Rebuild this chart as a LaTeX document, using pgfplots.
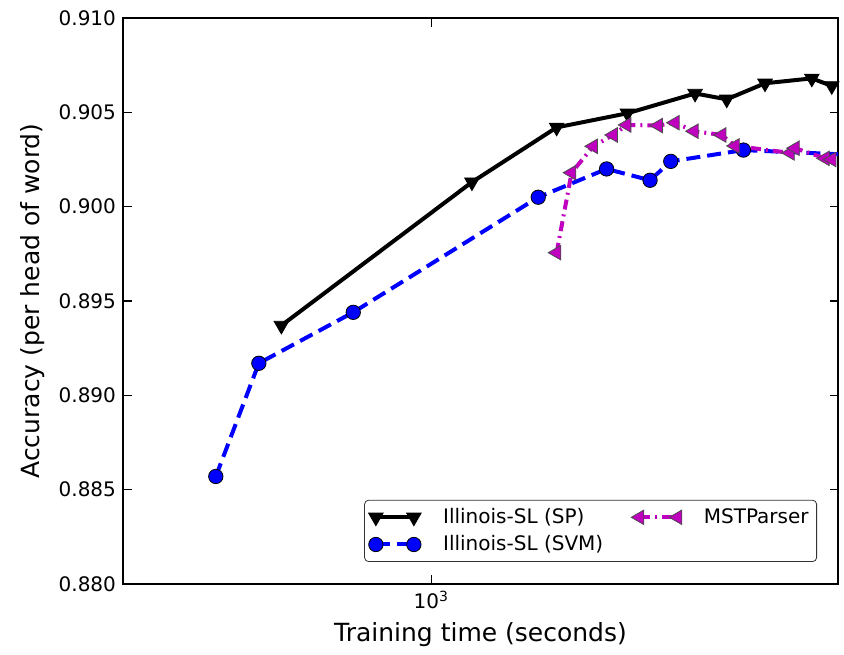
\documentclass[border=0pt]{standalone}
\usepackage{fontspec}
\setmainfont{DejaVu Sans}
\usepackage{pgfplots}
\pgfplotsset{compat=1.18}

\definecolor{mplm}{rgb}{0.75,0,0.75}
\definecolor{mplb}{rgb}{0,0,1}

\begin{document}
\begin{tikzpicture}
\begin{axis}[
  at={(0,0)},anchor=south west,
  scale only axis,width=357.5pt,height=283pt,
  xmode=log,xmin=298,xmax=4940,
  ymin=0.880,ymax=0.910,
  ytick={0.880,0.885,0.890,0.895,0.900,0.905,0.910},
  xtick={1000},xticklabels={10\textsuperscript{3}},
  yticklabel style={/pgf/number format/.cd,fixed,fixed zerofill,precision=3,assume math mode=true},
  tick label style={font=\fontsize{10}{12}\selectfont},
  tick align=inside,
  axis line style={line width=0.9pt},
  major tick style={black,line width=0.7pt},
  minor tick style={black,line width=0.6pt},
  xlabel={Training time (seconds)},
  ylabel={Accuracy (per head of word)},
  label style={font=\fontsize{12.5}{15}\selectfont},
  xlabel style={at={(axis description cs:0.5,-0.090)},anchor=center},
  ylabel style={at={(axis description cs:-0.127,0.5)},anchor=center},
  legend cell align=left,
  transpose legend,
  legend columns=2,
  legend style={at={(axis description cs:0.9706,0.0389)},anchor=south east,
    font=\fontsize{10}{12}\selectfont,draw=black!80,rounded corners=2pt,
    inner sep=2pt,row sep=0.5pt,
    /tikz/every odd column/.append style={column sep=9pt},
    /tikz/every even column/.append style={column sep=12pt}},
  legend image code/.code={\draw[#1] plot coordinates {(0pt,0pt) (19pt,0pt)};},
]
\addplot[black,line width=2pt,mark=triangle*,mark size=4.2pt,
  mark options={solid,rotate=180,fill=black,draw=black,line width=0.4pt}]
  coordinates {(555,0.8937) (1173,0.9013) (1636,0.9042) (2160,0.90495) (2818,0.9060)
  (3191,0.90569) (3709,0.90654) (4457,0.9068) (4820,0.9064)};
\addlegendentry{Illinois-SL (SP)}
\addplot[mplb,line width=2pt,dash pattern=on 7pt off 3.5pt,mark=*,mark size=3.6pt,
  mark options={solid,fill=mplb,draw=black,line width=0.4pt}]
  coordinates {(429,0.8857) (508,0.8917) (736,0.8944) (1522,0.9005) (1991,0.9020)
  (2361,0.9014) (2561,0.9024) (3407,0.9030)};
\addlegendentry{Illinois-SL (SVM)}
\addplot[mplb,line width=2pt,dash pattern=on 7pt off 3.5pt,forget plot]
  coordinates {(3407,0.9030) (5200,0.90275)};
\addplot[mplm,line width=2pt,dash pattern=on 5pt off 2.5pt on 1pt off 2.5pt,mark=triangle*,mark size=4.2pt,
  mark options={solid,rotate=90,fill=mplm,draw=black!70,line width=0.4pt}]
  coordinates {(1636,0.89756) (1735,0.9018) (1889,0.9032) (2043,0.9038) (2154,0.90433)
  (2439,0.9043) (2604,0.90445) (2806,0.9040) (3129,0.9038) (3297,0.90322)
  (4092,0.90285) (4173,0.9031) (4696,0.90256) (4820,0.9025)};
\addlegendentry{MSTParser}
\end{axis}
\pgfresetboundingbox
\path[use as bounding box] (-61.5pt,-35pt) rectangle (360.5pt,292pt);
\end{tikzpicture}
\end{document}
